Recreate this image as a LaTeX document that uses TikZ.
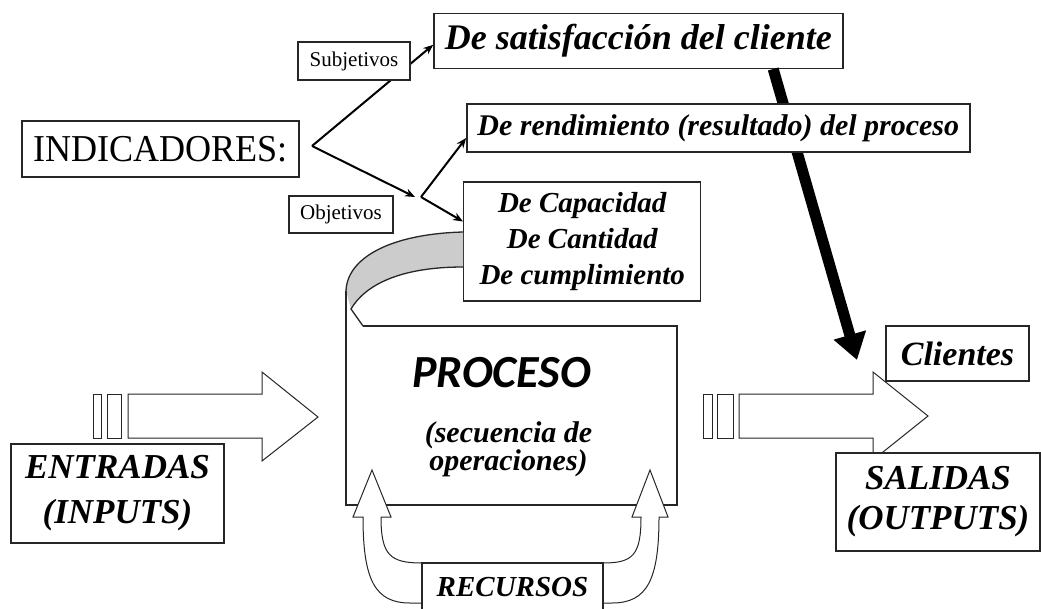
\documentclass[tikz,border=0pt]{standalone}
\usepackage{fontspec}
\setmainfont{Liberation Serif}
\newfontfamily\tnrc[FakeStretch=0.95]{Liberation Serif}
\newfontfamily\carl{Carlito}
\usetikzlibrary{arrows.meta,calc}
\tikzset{
  box/.style={draw=black!85, line width=1.4pt, fill=white, inner sep=0pt, align=center},
  conn/.style={draw=black, line width=2pt, -{Stealth[length=10pt,width=8pt]}},
  thick arrow/.style={draw=black, line width=11pt, -{Triangle[length=26pt,width=32pt]}},
  shape line/.style={draw=black!85, line width=1.3pt},
  bi/.style={font=\fontsize{#1}{#1}\selectfont\bfseries\itshape},
}
\begin{document}
\begin{tikzpicture}[x=1pt,y=-1pt]
\useasboundingbox (0,0) rectangle (1041,608);
\clip (0,0) rectangle (1041,608);

% ---- top node and thick arrow (arrow behind the boxes) ----
\path
  (638.4,40.8) node[box, minimum width=409pt, minimum height=55pt,
        font=\fontsize{36}{40}\selectfont\bfseries\itshape] (sat) {De satisfacción del cliente};
\coordinate (thicktip) at (857,360);
\draw[thick arrow] ($(sat.south west)+(340,0)$) -- (thicktip);

\coordinate (v) at (312,146);
\coordinate (objtip) at (415,197);
\coordinate (fork) at (421,197);

% connectors
\draw[conn] (v) -- ($(sat.west)+(0,4)$);
\draw[conn] (v) -- (objtip);

% boxes
\node[box, minimum width=277pt, minimum height=56pt,
      font=\fontsize{38}{42}\selectfont\tnrc] (ind) at (160.5,149) {INDICADORES:};
\node[box, minimum width=112pt, minimum height=38pt,
      font=\fontsize{21}{24}\selectfont] (sub) at (354,61) {Subjetivos};
\node[box, minimum width=104pt, minimum height=37pt,
      font=\fontsize{21}{24}\selectfont] (obj) at (341,214.5) {Objetivos};
\node[box, minimum width=503pt, minimum height=48pt,
      font=\fontsize{30}{34}\selectfont\bfseries\itshape] (ren) at (718.3,128) {De rendimiento (resultado) del proceso};
\node[box, minimum width=237pt, minimum height=119pt,
      font=\fontsize{29}{36}\selectfont\bfseries\itshape] (cap) at (582.2,241.5) {De Capacidad\\De Cantidad\\De cumplimiento};

\draw[conn] (fork) -- ($(ren.west)+(0,10)$);
\draw[conn] (fork) -- ($(cap.west)+(0,-20)$);

% ---- curled band and process box ----
\fill[black!20] (cap.west |- 0,232) .. controls (390,234) and (347,258) .. (346,291)
   -- (351,309) .. controls (365,285) and (400,267) .. (cap.west |- 0,267) -- cycle;
\draw[shape line] (cap.west |- 0,232) .. controls (390,234) and (347,258) .. (346,291);
\draw[shape line] (cap.west |- 0,267) .. controls (400,267) and (365,285) .. (351,309) -- (363,326);
\draw[shape line] (363,326) -- (677,326) -- (677,505) -- (346,505) -- (346,291);

\node[anchor=base, font=\fontsize{46}{50}\selectfont\carl\bfseries\itshape] (proc) at (501.5,387) {PROCESO};
\node[anchor=base, bi=30] (sec1) at (508.5,442) {(secuencia de};
\node[anchor=base, bi=30] (sec2) at (508.5,470) {operaciones)};

% ---- input arrow ----
\draw[shape line, line width=1pt, fill=white] (93,394) rectangle (101,438);
\draw[shape line, line width=1pt, fill=white] (107,394) rectangle (121,438);
\draw[shape line, line width=1pt, fill=white] (128,394) -- (262,394) -- (262,372) -- (318,417)
   -- (262,461) -- (262,438) -- (128,438) -- cycle;

% ---- output arrow ----
\draw[shape line, line width=1pt, fill=white] (703,394) rectangle (712,438);
\draw[shape line, line width=1pt, fill=white] (717,394) rectangle (733,438);
\draw[shape line, line width=1pt, fill=white] (739,394) -- (873,394) -- (873,372) -- (928,416)
   -- (873,460) -- (873,438) -- (739,438) -- cycle;

% ---- resource arrows ----
\draw[shape line, line width=1pt, fill=white] (422,603) -- (410,603) .. controls (375,603) and (363,580) .. (363,517)
   -- (353,517) -- (372,470) -- (391,517) -- (381,517)
   .. controls (381,555) and (390,563) .. (422,563);
\draw[shape line, line width=1pt, fill=white] (603,603) -- (612,603) .. controls (647,603) and (659,580) .. (659,517)
   -- (668,517) -- (650,470) -- (632,517) -- (641,517)
   .. controls (641,555) and (633,563) .. (603,563);

% ---- bottom / side boxes ----
\node[box, minimum width=213pt, minimum height=99pt,
      font=\fontsize{35}{45}\selectfont\bfseries\itshape] (ent) at (117.5,493.5) {ENTRADAS\\(INPUTS)};
\node[box, minimum width=204pt, minimum height=98pt,
      font=\fontsize{35}{40}\selectfont\bfseries\itshape] (sal) at (938,502) {SALIDAS\\(OUTPUTS)};
\node[box, minimum width=143pt, minimum height=55pt,
      font=\fontsize{34}{38}\selectfont\bfseries\itshape] (cli) at (957.5,353.5) {Clientes};
\node[box, minimum width=181pt, minimum height=49pt,
      font=\fontsize{29}{32}\selectfont\bfseries\itshape] (rec) at (512.5,587.5) {RECURSOS};
\end{tikzpicture}
\end{document}
